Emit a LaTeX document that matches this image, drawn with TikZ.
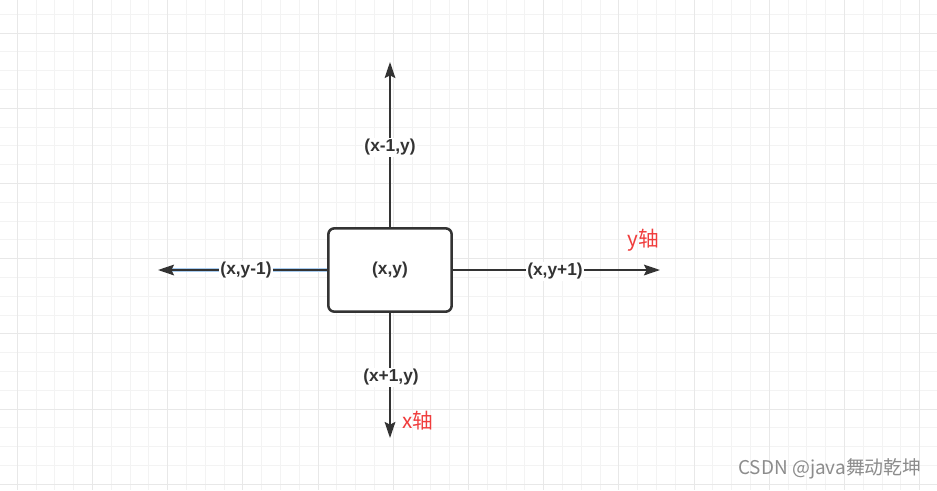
\documentclass[tikz,border=0pt]{standalone}
\usepackage{fontspec}
\setmainfont{Liberation Sans}
\newfontfamily\cjkfont{Noto Sans CJK SC}
\usetikzlibrary{arrows.meta}
\definecolor{ink}{HTML}{333333}
\definecolor{gridminor}{HTML}{F3F3F3}
\definecolor{gridmajor}{HTML}{E8E8E8}
\definecolor{axisred}{HTML}{F03C3C}
\definecolor{halo}{HTML}{A8CCF0}
\definecolor{wmgray}{HTML}{8C8C8C}
\begin{document}
\begin{tikzpicture}[x=0.75pt,y=-0.75pt,
  cellbox/.style={draw=ink, line width=1.9pt, rounded corners=4.5pt, fill=white,
    minimum width=92.5pt, minimum height=62.5pt, inner sep=0pt,
    font=\bfseries\fontsize{13}{15}\selectfont, text=ink},
  conn/.style={draw=ink, line width=1.5pt, -{Stealth[length=12pt,width=8pt,inset=2pt]}},
  lbl/.style={fill=white, inner sep=1.2pt, font=\bfseries\fontsize{13}{15}\selectfont, text=ink},
  axislbl/.style={inner sep=0pt, font=\cjkfont\fontsize{15.5}{17}\selectfont, text=axisred},
  wmark/.style={inner sep=0pt, font=\cjkfont\fontsize{14.2}{16}\selectfont, text=wmgray}]
\useasboundingbox (0,0) rectangle (937,490);
\fill[white] (0,0) rectangle (937,490);
% grid
\foreach \k in {0,...,50} \draw[gridminor, line width=0.75pt] ({-1.5+18.8*\k},0) -- ++(0,490);
\foreach \k in {0,...,26} \draw[gridminor, line width=0.75pt] (0,{14.2+18.8*\k}) -- ++(937,0);
\foreach \m in {0,...,12} \draw[gridmajor, line width=0.75pt] ({17.3+75.2*\m},0) -- ++(0,490);
\foreach \m in {0,...,6} \draw[gridmajor, line width=0.75pt] (0,{33+75.2*\m}) -- ++(937,0);
% central cell
\node[cellbox] (c) at (390,270) {(x,y)};
% arrow ends
\coordinate (tn) at (390,62);
\coordinate (ts) at (390,438);
\coordinate (tw) at (158,270);
\coordinate (te) at (660,270);
\coordinate (hw) at (172,270);
% connectors
\draw[halo, line width=3.4pt] (c.west) -- (hw);
\draw[conn] (c.north) -- (tn);
\draw[conn] (c.south) -- (ts);
\draw[conn] (c.west) -- (tw);
\draw[conn] (c.east) -- (te);
% labels
\node[lbl] (ln) at (390,147.5) {(x-1,y)};
\node[lbl] (ls) at (391,377.5) {(x+1,y)};
\node[lbl] (lw) at (246,270.5) {(x,y-1)};
\node[lbl] (le) at (555,271.5) {(x,y+1)};
\node[axislbl] (ya) at (643,240) {y轴};
\node[axislbl] (xa) at (418,421) {x轴};
\node[wmark, anchor=east] (wm) at (922,469) {CSDN @java舞动乾坤};
\end{tikzpicture}
\end{document}
